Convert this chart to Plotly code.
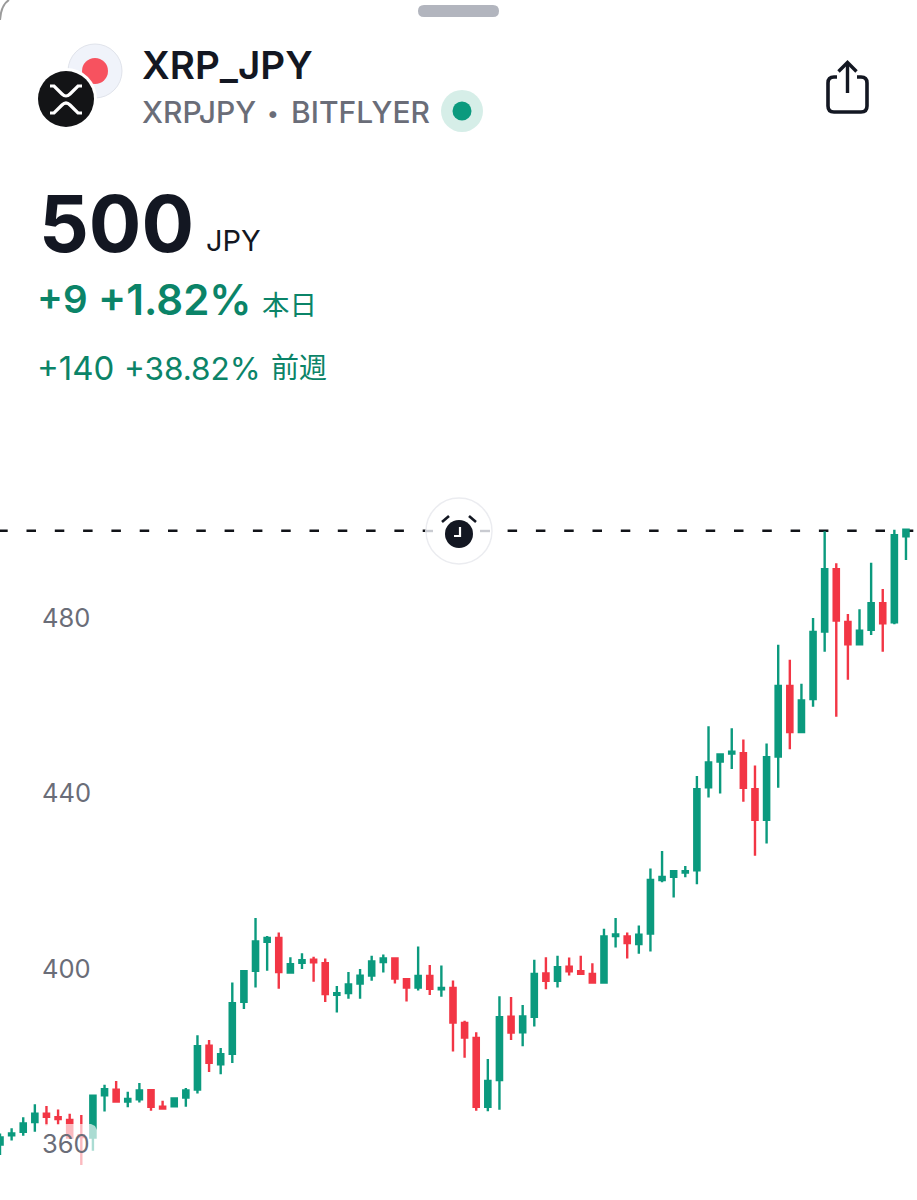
import plotly.graph_objects as go

# ---------- data (prices in JPY, one entry per bar) ----------
bar_open = [360,362.1,362.9,365.1,367,366.2,365.6,362.1,361.6,371.2,372.5,369.8,370.3,372.4,368.6,368.7,370.7,372.5,382.5,378.3,
            380.7,392.5,399.6,406.2,407.1,399.2,401.4,402.1,401.3,394.1,394.5,396.7,398.5,401.6,402.4,397.7,395.8,398.4,395.4,395.7,
            387.7,384.3,368.6,374.7,389.1,385.6,389.1,399,397.3,400.5,399.5,398.9,396.9,407.5,407.4,405.7,408.1,420.3,421,422,
            422.5,441.4,447.3,449.1,449.2,441,434,448.4,464.5,454,461.5,476.9,491.1,479.1,474,477.3,483.4,479,498.6]
bar_high = [362.5,363.7,366.2,369.2,368.8,368,367,366.7,371.3,373.6,374.5,372,374,372.5,370,370.7,372.9,384.9,383.8,382,
            396.9,399.6,411.6,407.5,408.3,402.7,403.6,402.8,402.4,396.1,399.3,400,403,403.3,402.5,397.8,405.1,400.9,400.8,397.4,
            388.2,385.6,379.5,393.8,393.6,391.8,402.1,402.7,403,402.6,403,401.3,409.2,411.6,408.3,409.9,422.9,426.9,422.4,423.5,
            444,455.3,449.2,454.9,452.3,446.4,451.4,473.9,470.5,465,480,499.8,492.5,480.9,482,492.6,486.6,500.1,500.1]
bar_low = [357.6,360.9,362,362.9,364.4,364.5,361.4,355.3,358.6,367.5,369.8,368.5,369.6,367.7,368,368.6,368.6,371.6,376.5,376,
           378.6,390.9,395.8,399.6,395.5,399.1,400,397.1,392.5,390.1,393.2,393.2,397.3,399.2,396.7,392.6,395.1,394.1,393.7,381.2,
           379.8,367.7,367.6,367.9,383.8,382.4,386.9,395.4,395.8,398.5,398.7,396.7,396.9,404.9,402.4,403.5,404,419.8,416.3,420.9,
           419.3,439.1,440,445.6,438.1,425.8,428.6,441.3,450.1,454,459.8,472.3,457.5,465.9,474,476.1,472.3,478.6,493.2]
bar_close = [361.6,362.5,364.8,367,366.3,365.8,361.6,361.7,371.1,372.6,369.8,370.4,372.3,368.6,368.2,370.5,372.3,382.4,378.6,380.6,
             392.2,399.5,406.3,407.1,399.3,401.1,402,401.5,394.3,394.5,396.5,398.5,401.7,402.4,397.8,395.8,398.4,395.5,395.7,387.8,
             384.4,368.6,374.5,389,385.5,389.2,398.9,397.3,400.4,399.5,398.9,396.9,407.4,407.9,405.9,407.8,420.3,421,422.3,422.3,
             441,447.1,448.9,449.5,441.3,434,448.3,464.5,454,461.2,476.8,491.1,479.4,474,477.1,483.4,478.8,498.9,500.1]
bar_index = list(range(len(bar_open)))
tick_values = [360, 400, 440, 480]
tick_labels = ["360", "400", "440", "480"]
alert_price = 499.9

# ---------- style ----------
W, H = 917, 1200
GREEN, RED = "#0b9a7e", "#f23645"
TXT_GREEN, DARK, GREY = "#0b8468", "#131722", "#6a6d78"
CJK = "Noto Sans CJK JP"
PX_PER_BAR = 11.615
PX_PER_YEN = 4.3875
Y400 = 969.0

xr = [0, W / PX_PER_BAR]
yr = [400 - (H - Y400) / PX_PER_YEN, 400 + Y400 / PX_PER_YEN]
fx = lambda x: x / W
fy = lambda y: 1 - y / H


def path(fmt):
    """fmt: list of tokens; numeric pairs are page pixels."""
    out, i = [], 0
    while i < len(fmt):
        t = fmt[i]
        if isinstance(t, str):
            out.append(t)
            i += 1
        else:
            out.append(f"{fx(t):.5f},{fy(fmt[i+1]):.5f}")
            i += 2
    return " ".join(out)


shapes, ann = [], []


def circle(cx, cy, r, fill, line=None, lw=0):
    shapes.append(dict(type="circle", xref="paper", yref="paper", x0=fx(cx - r), x1=fx(cx + r),
                       y0=fy(cy + r), y1=fy(cy - r), fillcolor=fill, layer="above",
                       line=dict(color=line or fill, width=lw)))


def stroke(tokens, color, width):
    shapes.append(dict(type="path", xref="paper", yref="paper", path=path(tokens), layer="above",
                       line=dict(color=color, width=width), fillcolor="rgba(0,0,0,0)"))


def fill(tokens, color):
    shapes.append(dict(type="path", xref="paper", yref="paper", path=path(tokens), layer="above",
                       line=dict(width=0), fillcolor=color))


def text(x, y, s, size, color, weight=400, family="Inter", anchor="left"):
    ann.append(dict(xref="paper", yref="paper", x=fx(x), y=fy(y), text=s, showarrow=False,
                    xanchor=anchor, yanchor="middle", borderpad=0, borderwidth=0,
                    font=dict(family=family, size=size, color=color, weight=weight)))


# card corner + drag handle
stroke(["M", 0, 20, "Q", 1, 5, 9, 0], "#9b9b9b", 2)
fill(["M", 424, 5, "L", 493, 5, "Q", 499, 5, 499, 11, "Q", 499, 17, 493, 17, "L", 424, 17,
      "Q", 418, 17, 418, 11, "Q", 418, 5, 424, 5, "Z"], "#b2b5be")

# pair logos
circle(95, 71, 27, "#f0f3fa", "#e0e3eb", 1)
circle(95, 71, 13, "#f7525f")
circle(66, 99, 31, "#ffffff")
circle(66, 99, 28, "#131416")
stroke(["M", 50, 86, "L", 54, 86, "L", 62, 94, "Q", 66, 98, 70, 94, "L", 78, 86, "L", 82, 86], "#ffffff", 3.2)
stroke(["M", 50, 113, "L", 54, 113, "L", 62, 105, "Q", 66, 101, 70, 105, "L", 78, 113, "L", 82, 113], "#ffffff", 3.2)

# status dot
circle(462, 111, 21, "#d6eee8")
circle(462, 111, 9.5, "#0b9a7e")

# share icon
stroke(["M", 837, 77, "L", 834, 77, "Q", 828, 77, 828, 83, "L", 828, 106, "Q", 828, 112, 834, 112, "L", 861, 112,
        "Q", 867, 112, 867, 106, "L", 867, 83, "Q", 867, 77, 861, 77, "L", 857, 77], DARK, 3.6)
stroke(["M", 847.5, 93, "L", 847.5, 63], DARK, 3.4)
stroke(["M", 838.5, 71.5, "L", 847.5, 62.5, "L", 856.5, 71.5], DARK, 3.4)

# alert price line and alarm badge
shapes.append(dict(type="line", xref="paper", yref="y", x0=fx(-1.8), x1=1, y0=alert_price, y1=alert_price,
                   layer="below", line=dict(color="#111318", width=2.6, dash="9.5px,18.8px")))
circle(459, 531, 33, "#ffffff", "#ebecf0", 1.4)
stroke(["M", 425, 531, "L", 433, 531], "#c9cbd1", 2.4)
stroke(["M", 480, 531, "L", 490, 531], "#c9cbd1", 2.4)
circle(459, 534, 14, DARK)
stroke(["M", 442, 522, "L", 449, 516], DARK, 2.6)
stroke(["M", 476, 522, "L", 469, 516], DARK, 2.6)
stroke(["M", 460, 527, "L", 460, 536, "L", 454, 536], "#ffffff", 2.2)

# header text
text(142, 65, "XRP_JPY", 38.6, DARK, 600)
text(142, 112, "XRPJPY", 30, GREY, 500)
text(267, 113, "•", 22, GREY, 500)
text(291, 112, "BITFLYER", 30, GREY, 500)
text(39, 224, "500", 78, DARK, 700)
text(206, 241, "JPY", 29, DARK, 400)
text(37, 299, "+9", 38.5, TXT_GREEN, 600)
text(98, 299, "+1.82%", 42, TXT_GREEN, 600)
text(262, 303, "本日", 27.5, TXT_GREEN, 400, CJK)
text(37, 368, "+140", 33, TXT_GREEN, 400)
text(124, 368, "+38.82%", 31.5, TXT_GREEN, 400)
text(271, 366, "前週", 28, TXT_GREEN, 400, CJK)

fig = go.Figure()
fig.add_trace(go.Candlestick(
    x=bar_index, open=bar_open, high=bar_high, low=bar_low, close=bar_close,
    increasing=dict(line=dict(color=GREEN, width=2.4), fillcolor=GREEN),
    decreasing=dict(line=dict(color=RED, width=2.4), fillcolor=RED),
    whiskerwidth=0, hoverinfo="skip", showlegend=False))

# translucent pane behind the last-axis label
to_x = lambda p: p / PX_PER_BAR
to_y = lambda p: 400 + (Y400 - p) / PX_PER_YEN
pane = [(38, 1172), (38, 1130), (44, 1124), (91, 1124), (95, 1126), (97, 1130), (97, 1172), (38, 1172)]
fig.add_trace(go.Scatter(
    x=[to_x(p[0]) for p in pane], y=[to_y(p[1]) for p in pane], mode="lines", fill="toself",
    fillcolor="rgba(255,255,255,0.66)", line=dict(width=0), hoverinfo="skip", showlegend=False))

fig.update_layout(
    width=W, height=H, margin=dict(l=0, r=0, t=0, b=0), paper_bgcolor="#ffffff", plot_bgcolor="#ffffff",
    boxgap=0.36, shapes=shapes, annotations=ann, showlegend=False,
    xaxis=dict(range=xr, visible=False, fixedrange=True, rangeslider=dict(visible=False)),
    yaxis=dict(range=yr, fixedrange=True, showgrid=False, zeroline=False, showline=False, ticks="",
               tickmode="array", tickvals=tick_values, ticktext=tick_labels, ticklabelposition="inside",
               ticklabelstandoff=39, tickfont=dict(family="Inter", size=25.5, color=GREY)),
)
fig.write_html("out.html", config=dict(displayModeBar=False, responsive=False),
               post_script="document.body.style.margin='0';document.body.style.overflow='hidden';")
